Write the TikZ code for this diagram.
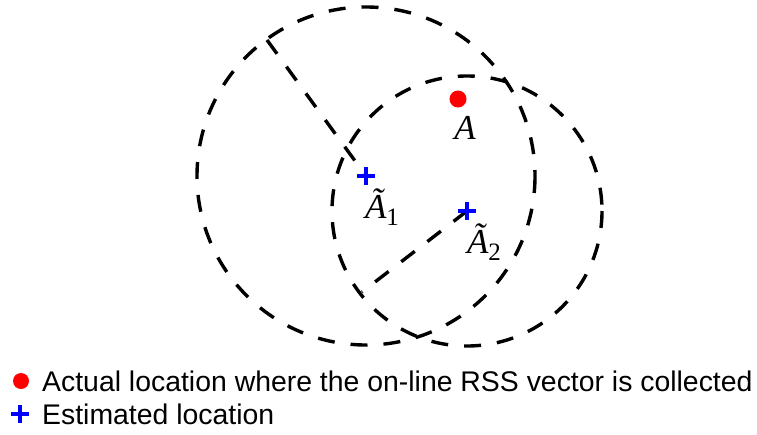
\documentclass[tikz,border=0pt]{standalone}
\usepackage{fontspec}
\setmainfont{Liberation Sans}
\newfontfamily\tms{Liberation Serif}
\usetikzlibrary{calc}
\tikzset{
  ring/.style={draw=black, line width=3.4pt, dash pattern=on 17pt off 16pt},
  radius line/.style={draw=black, line width=3.4pt, dash pattern=on 17pt off 16pt},
  plusmark/.style={draw=blue, line width=3.4pt},
  reddot/.style={circle, fill=red, inner sep=0pt, minimum size=17pt},
  mathlbl/.style={font=\tms\fontsize{35}{38}\selectfont\itshape, inner sep=0pt},
  legendtxt/.style={font=\fontsize{28.4}{30}\selectfont, anchor=west, inner sep=0pt},
}
\begin{document}
\begin{tikzpicture}[x=1pt,y=-1pt]
\useasboundingbox (0,0) rectangle (757,434);
% centres
\coordinate (a1) at (366,176);
\coordinate (a2) at (467,211);
\coordinate (r1) at ($(a1)+(-99,-136)$);
\coordinate (r2) at ($(a2)+(-105,81)$);
% circles
\draw[ring] (a1) circle (169);
\draw[ring] (a2) circle (135);
% radii
\draw[radius line] (r1) -- (a1);
\draw[radius line] (a2) -- (r2);
% actual location
\node[reddot] (A) at (458,99) {};
\node[mathlbl] (Alab) at (465,128) {A};
% estimated locations
\draw[plusmark] ($(a1)+(-9,0)$) -- ($(a1)+(9,0)$);
\draw[plusmark] ($(a1)+(0,-9)$) -- ($(a1)+(0,9)$);
\draw[plusmark] ($(a2)+(-9,0)$) -- ($(a2)+(9,0)$);
\draw[plusmark] ($(a2)+(0,-9)$) -- ($(a2)+(0,9)$);
\node[mathlbl] (A1lab) at (382,207) {\~{A}{\upshape\fontsize{25}{27}\selectfont\raisebox{-7pt}{1}}};
\node[mathlbl] (A2lab) at (484,242) {\~{A}{\upshape\fontsize{25}{27}\selectfont\raisebox{-7pt}{2}}};
% legend
\node[circle, fill=red, inner sep=0pt, minimum size=16pt] (ldot) at (21,381) {};
\node[legendtxt] (l1) at (42,381) {Actual location where the on-line RSS vector is collected};
\draw[plusmark] (11,414) -- (29,414);
\draw[plusmark] (20,405) -- (20,423);
\coordinate (lplus) at (20,414);
\node[legendtxt] (l2) at (42,414) {Estimated location};
\end{tikzpicture}
\end{document}
